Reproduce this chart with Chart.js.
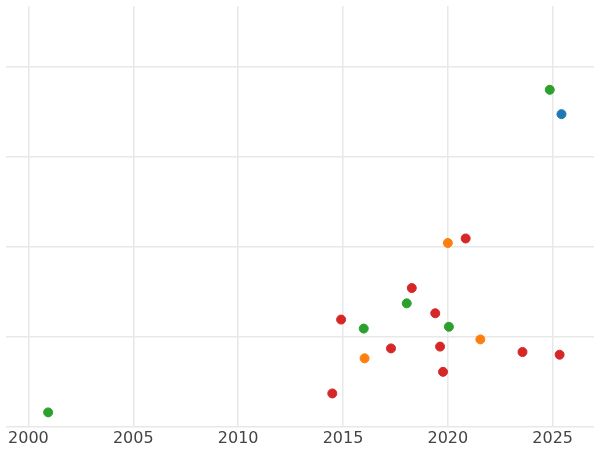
<!DOCTYPE html>
<html>
<head>
<script src="https://cdn.jsdelivr.net/npm/chart.js@4"></script>
<style>
  html,body{margin:0;padding:0;background:#fff;}
  #wrap{width:600px;height:450px;}
</style>
</head>
<body>
<div id="wrap"><canvas id="c"></canvas></div>
<script>
// series values: [year, value]
const blueSeries = [[2025.42, 3.47]];
const greenSeries = [[2024.86, 3.74], [2000.94, 0.16], [2015.99, 1.09], [2018.04, 1.37], [2020.05, 1.11]];
const orangeSeries = [[2020.0, 2.04], [2016.03, 0.76], [2021.55, 0.97]];
const redSeries = [[2020.85, 2.09], [2018.28, 1.54], [2014.91, 1.19], [2019.4, 1.26], [2017.29, 0.87],
  [2019.63, 0.89], [2019.77, 0.61], [2014.49, 0.37], [2023.56, 0.83], [2025.33, 0.80]];
const xTicks = [2000, 2005, 2010, 2015, 2020, 2025];
const yTicks = [0, 1, 2, 3, 4];

const toPts = s => s.map(([x, y]) => ({x, y}));
const mk = (data, color) => ({
  data: toPts(data), backgroundColor: color, borderColor: color,
  pointRadius: 4.5, pointHoverRadius: 5, clip: false
});

new Chart(document.getElementById('c'), {
  type: 'scatter',
  data: {
    datasets: [
      mk(blueSeries, '#1f77b4'),
      mk(greenSeries, '#2ca02c'),
      mk(orangeSeries, '#ff7f0e'),
      mk(redSeries, '#d62728')
    ]
  },
  options: {
    responsive: true, maintainAspectRatio: false, animation: false,
    layout: { padding: { left: -6, right: -6, top: -6, bottom: 0 } },
    plugins: { legend: { display: false }, tooltip: { enabled: false } },
    scales: {
      x: {
        type: 'linear', min: 1998.93, max: 2026.97,
        afterBuildTicks: ax => { ax.ticks = xTicks.map(v => ({value: v})); },
        ticks: { color: '#444', font: { family: 'DejaVu Sans', size: 16 }, padding: 2, maxRotation: 0,
          callback: v => String(v) },
        grid: { color: '#e8e8e8', lineWidth: 1.5, drawTicks: false },
        border: { display: false }
      },
      y: {
        min: 0, max: 4.67,
        afterBuildTicks: ax => { ax.ticks = yTicks.map(v => ({value: v})); },
        afterFit: ax => { ax.width = 0; },
        ticks: { display: false },
        grid: { color: '#e8e8e8', lineWidth: 1.5, drawTicks: false },
        border: { display: false }
      }
    }
  }
});
</script>
</body>
</html>
